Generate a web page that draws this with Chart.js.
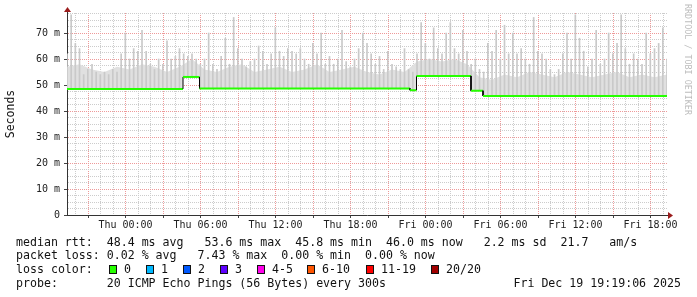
<!DOCTYPE html>
<html lang="en">
<head>
<meta charset="UTF-8">
<title>SmokePing latency</title>
<script src="https://cdn.jsdelivr.net/npm/chart.js@4.4.9/dist/chart.umd.min.js"></script>
<style>
    body { margin: 0; background: #fff; }
    .wrap { position: relative; width: 697px; height: 297px; font-family: 'DejaVu Sans Mono', monospace; color: #111; }
    canvas { position: absolute; left: 0; top: 0; }
    .line { position: absolute; left: 16px; font-size: 11.6px; line-height: 14px; white-space: pre; }
    .box { position: absolute; width: 6px; height: 7px; border: 1px solid #111; }
    .lbl { position: absolute; font-size: 11.6px; line-height: 14px; white-space: pre; }
    .stamp { position: absolute; right: 16px; font-size: 11.6px; line-height: 14px; white-space: pre; }
    .credit { position: absolute; left: 683px; top: 4px; writing-mode: vertical-rl; font-size: 8.4px; color: #bdbdbd; }
</style>
</head>
<body>
<div class="wrap">
    <canvas id="smoke" width="697" height="297"></canvas>
    <div class="credit">RRDTOOL / TOBI OETIKER</div>
    <div class="line" style="top:235px">median rtt:  48.4 ms avg   53.6 ms max  45.8 ms min  46.0 ms now   2.2 ms sd  21.7   am/s</div>
    <div class="line" style="top:248px">packet loss: 0.02 % avg   7.43 % max  0.00 % min  0.00 % now</div>
    <div class="line" style="top:262px" id="lossLine">loss color:</div>
    <div class="line" style="top:276px">probe:       20 ICMP Echo Pings (56 Bytes) every 300s</div>
    <div class="stamp" style="top:276px">Fri Dec 19 19:19:06 2025</div>
</div>

<script>
// hours since graph start (Wed 19:19:06), 48 h window
const spanHours = 48;
const firstFullHour = 0.6817;   // Wed 20:00

// median rtt in ms (step changes as pairs)
const medianHours  = [0,    9.28, 9.28, 10.6, 10.6, 27.44, 27.44, 27.96, 27.96, 32.32, 32.32, 33.28, 33.28, 48];
const medianValues = [48.5, 48.5, 53.1, 53.1, 48.7, 48.7,  48.0,  48.0,  53.5,  53.5,  47.8,  47.8,  45.8,  45.8];

// highest ping per 20 min step (ms)
const smokeStep = 1 / 3;
const smokeMax = [
    62, 77, 66, 64, 54, 56, 58, 55, 54,
    55, 54, 56, 55, 62, 70, 60, 64, 63,
    71, 63, 58, 56, 60, 58, 67, 60, 61,
    64, 62, 61, 62, 60, 58, 60, 70, 58,
    56, 61, 68, 58, 76, 64, 60, 57, 59,
    60, 65, 63, 58, 62, 72, 63, 61, 64,
    63, 62, 64, 60, 58, 66, 62, 70, 58,
    61, 58, 60, 71, 59, 57, 60, 64, 70,
    66, 62, 58, 61, 56, 63, 58, 57, 56,
    64, 56, 55, 62, 74, 66, 60, 72, 64,
    62, 70, 74, 64, 62, 71, 63, 58, 60,
    56, 55, 66, 63, 71, 60, 73, 62, 70,
    62, 64, 60, 58, 76, 63, 62, 60, 56,
    54, 56, 62, 70, 60, 77, 68, 63, 57,
    60, 71, 58, 60, 70, 62, 66, 77, 64,
    58, 62, 60, 58, 70, 62, 64, 66, 72,
    60
];

// top of the dense pings, per hour (ms)
const smokeBand = [
    57, 58, 56, 55, 57, 56, 58, 57, 55, 57,
    60,
    56, 55, 57, 58, 55, 56, 57, 55, 56, 58, 55, 56, 57, 55, 54, 56, 55,
    59, 60, 59, 60, 58,
    53, 52, 54, 53, 55, 54, 53, 55, 54, 53, 54, 55, 53, 54, 53, 54
];

const xTickHours  = [4.6817, 10.6817, 16.6817, 22.6817, 28.6817, 34.6817, 40.6817, 46.6817];
const xTickLabels = ['Thu 00:00', 'Thu 06:00', 'Thu 12:00', 'Thu 18:00', 'Fri 00:00', 'Fri 06:00', 'Fri 12:00', 'Fri 18:00'];
const yTickValues = [0, 10, 20, 30, 40, 50, 60, 70];
const yTickLabels = ['0', '10 m', '20 m', '30 m', '40 m', '50 m', '60 m', '70 m'];

const lossLabels = ['0', '1', '2', '3', '4-5', '6-10', '11-19', '20/20'];
const lossColors = ['#26ff00', '#00b8ff', '#0059ff', '#5e00ff', '#ff00ea', '#ff5500', '#ff0000', '#a10000'];
const lossBoxX   = [109, 146, 183, 220, 257, 307, 366, 431];

const lossLine = document.getElementById('lossLine');
lossLabels.forEach((l, i) => {
    const b = document.createElement('span');
    b.className = 'box';
    b.style.left = (lossBoxX[i] - 16) + 'px';
    b.style.top = '3px';
    b.style.background = lossColors[i];
    lossLine.appendChild(b);
    const t = document.createElement('span');
    t.className = 'lbl';
    t.style.left = (lossBoxX[i] - 16 + 15) + 'px';
    t.style.top = '0px';
    t.textContent = l;
    lossLine.appendChild(t);
});

function medianAt(h) {
    let v = medianValues[0];
    for (let i = 0; i < medianHours.length; i++) {
        if (medianHours[i] <= h) v = medianValues[i];
    }
    return v;
}

const majorRed = '#ee9999';
const minorGrey = '#cccccc';

function xIsMajor(v) {
    const k = Math.round(v - firstFullHour);
    return (20 + k) % 3 === 0;
}

const arrows = {
    id: 'arrows',
    afterDraw(chart) {
        const { ctx, chartArea: a } = chart;
        ctx.save();
        ctx.strokeStyle = '#333';
        ctx.lineWidth = 1;
        ctx.beginPath();
        ctx.moveTo(a.left + 0.5, a.top);
        ctx.lineTo(a.left + 0.5, a.top - 4);
        ctx.moveTo(a.right, a.bottom + 0.5);
        ctx.lineTo(a.right + 4, a.bottom + 0.5);
        ctx.stroke();
        ctx.fillStyle = '#9b1c1c';
        ctx.beginPath();
        ctx.moveTo(a.left - 3, a.top - 1);
        ctx.lineTo(a.left + 4, a.top - 1);
        ctx.lineTo(a.left + 0.5, a.top - 6);
        ctx.fill();
        ctx.beginPath();
        ctx.moveTo(a.right + 1, a.bottom - 3);
        ctx.lineTo(a.right + 1, a.bottom + 4);
        ctx.lineTo(a.right + 6, a.bottom + 0.5);
        ctx.fill();
        ctx.restore();
    }
};

Chart.defaults.font.family = "'DejaVu Sans Mono', monospace";
Chart.defaults.font.size = 10;
Chart.defaults.color = '#222';

new Chart(document.getElementById('smoke'), {
    type: 'line',
    data: {
        datasets: [
            {
                label: 'median rtt',
                order: 0,
                data: medianHours.map((h, i) => ({ x: h, y: medianValues[i] })),
                borderColor: '#26ff00',
                borderWidth: 2,
                pointRadius: 0,
                fill: false,
                segment: {
                    borderColor: c => c.p0.parsed.x === c.p1.parsed.x ? '#000' : '#26ff00',
                    borderWidth: c => c.p0.parsed.x === c.p1.parsed.x ? 1 : 2
                }
            },
            {
                label: 'smoke spikes',
                type: 'bar',
                order: 1,
                data: smokeMax.map((v, i) => ({ x: i * smokeStep, y: [medianAt(i * smokeStep), v] })),
                backgroundColor: '#c9c9c9',
                borderWidth: 0,
                barThickness: 1
            },
            {
                label: 'smoke band',
                order: 2,
                data: smokeBand.map((v, i) => ({ x: i, y: v })),
                borderWidth: 0,
                borderColor: 'transparent',
                backgroundColor: '#e0e0e0',
                pointRadius: 0,
                fill: 0
            }
        ]
    },
    options: {
        responsive: false,
        animation: false,
        events: [],
        layout: { padding: { left: 0, right: 30, top: 13, bottom: 62 } },
        plugins: { legend: { display: false }, tooltip: { enabled: false } },
        scales: {
            x: {
                type: 'linear',
                offset: false,
                min: 0,
                max: spanHours,
                afterBuildTicks: s => {
                    const t = [];
                    for (let h = firstFullHour; h < spanHours; h += 1) t.push({ value: h });
                    s.ticks = t;
                },
                afterFit: s => { s.height = 20; },
                ticks: {
                    autoSkip: false,
                    maxRotation: 0,
                    padding: 1,
                    color: '#222',
                    callback: v => {
                        const i = xTickHours.findIndex(h => Math.abs(h - v) < 0.01);
                        return i >= 0 ? xTickLabels[i] : '';
                    }
                },
                grid: {
                    offset: false,
                    color: c => xIsMajor(c.tick.value) ? majorRed : minorGrey,
                    tickColor: c => xIsMajor(c.tick.value) ? '#444' : 'transparent',
                    tickLength: 3,
                    lineWidth: 1
                },
                border: { color: '#333', width: 1, dash: [1, 1] }
            },
            y: {
                min: 0,
                max: 77.7,
                afterBuildTicks: s => {
                    const t = [];
                    for (let v = 0; v <= 77.5; v += 2.5) t.push({ value: v });
                    s.ticks = t;
                },
                afterFit: s => { s.width = 67; },
                ticks: {
                    autoSkip: false,
                    padding: 4,
                    color: '#222',
                    callback: v => {
                        const i = yTickValues.indexOf(v);
                        return i >= 0 ? yTickLabels[i] : '';
                    }
                },
                grid: {
                    color: c => c.tick.value % 10 === 0 ? majorRed : minorGrey,
                    tickColor: c => c.tick.value % 10 === 0 ? '#444' : 'transparent',
                    tickLength: 3,
                    lineWidth: 1
                },
                border: { color: '#333', width: 1, dash: [1, 1] },
                title: {
                    display: true,
                    text: 'Seconds',
                    color: '#111',
                    font: { size: 11.5 },
                    padding: { top: 4, bottom: 0 }
                }
            }
        }
    },
    plugins: [arrows]
});
</script>
</body>
</html>
